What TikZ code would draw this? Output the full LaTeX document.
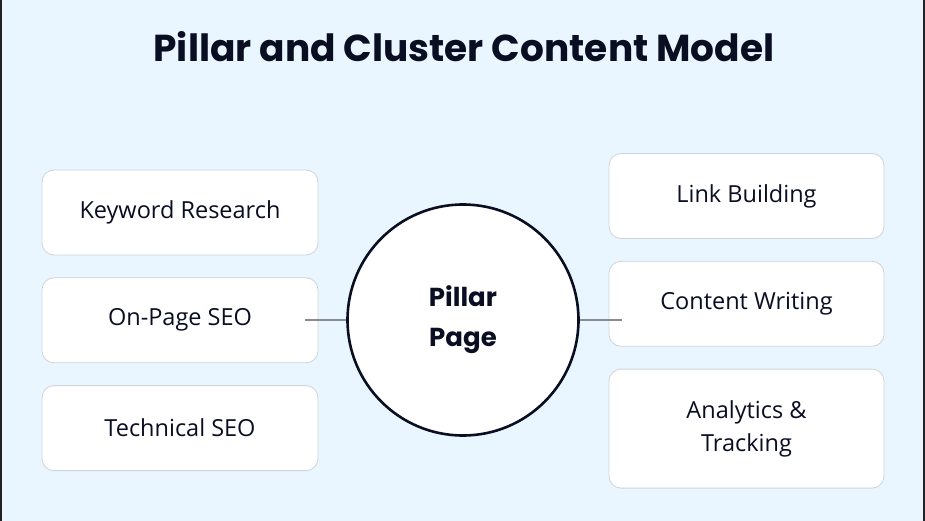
\documentclass[tikz,border=0pt]{standalone}
\usepackage{fontspec}
\setmainfont{Open Sans}
\newfontfamily\poppins{Poppins}
\usepackage{xcolor}
\definecolor{skyBg}{RGB}{234, 246, 255}
\definecolor{inkNavy}{RGB}{10, 14, 35}
\definecolor{boxLine}{RGB}{206, 212, 218}
\definecolor{linkGray}{RGB}{136, 140, 145}
\definecolor{edgeDark}{RGB}{34, 34, 34}
\usepackage{tikz}
\usetikzlibrary{positioning}

\begin{document}
\begin{tikzpicture}[x=1pt, y=-1pt,
  topic/.style={draw=boxLine, fill=white, rounded corners=12pt, line width=0.8pt,
    minimum width=276pt, minimum height=85pt, text=inkNavy, align=center,
    font=\fontsize{23.5}{33}\selectfont},
  link/.style={draw=linkGray, line width=1.2pt}]
% page
\fill[skyBg] (0,0) rectangle (925,521);
\fill[edgeDark] (0,0) rectangle (2,521);
\fill[edgeDark] (923,0) rectangle (925,521);
\node[text=inkNavy, font=\poppins\bfseries\fontsize{37.5}{44}\selectfont] (title) at (464,47) {Pillar and Cluster Content Model};
% hub
\node[circle, draw=inkNavy, fill=white, line width=2.6pt, minimum size=231pt, align=center, text=inkNavy,
  font=\poppins\bfseries\fontsize{26}{40}\selectfont] (pillar) at (463,320) {Pillar\\Page};
% left cluster
\node[topic] (keyword) at (180,212.5) {Keyword Research};
\node[topic, below=22pt of keyword] (onpage) {On-Page SEO};
\node[topic, below=22pt of onpage] (technical) {Technical SEO};
% right cluster
\node[topic, minimum width=275pt] (linkbuild) at (746.5,196) {Link Building};
\node[topic, minimum width=275pt, below=22pt of linkbuild] (writing) {Content Writing};
\node[topic, minimum width=275pt, minimum height=119pt, below=22pt of writing] (analytics) {Analytics \&\\Tracking};
% connectors
\path (pillar.west -| onpage.east) ++(-13pt,0) coordinate (leftEnd);
\path (pillar.east -| writing.west) ++(13pt,0) coordinate (rightEnd);
\draw[link] (leftEnd) -- (pillar.west);
\draw[link] (pillar.east) -- (rightEnd);
\end{tikzpicture}
\end{document}
